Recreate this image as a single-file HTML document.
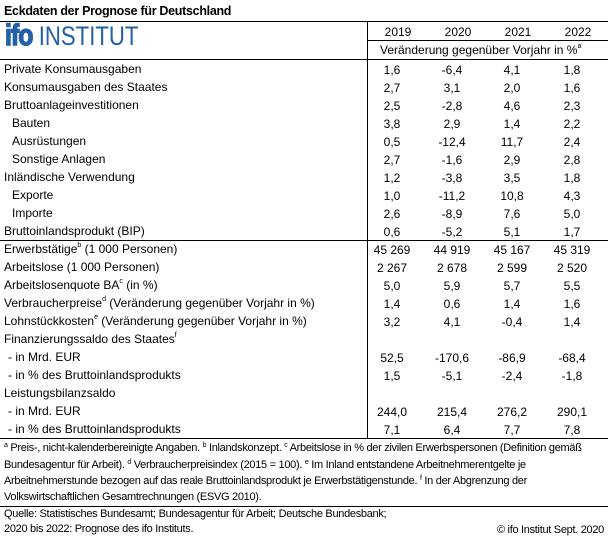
<!DOCTYPE html>
<html><head><meta charset="utf-8"><style>
body{margin:0;width:608px;height:539px;background:#fff;position:relative;overflow:hidden;font-family:"Liberation Sans",sans-serif;color:#000}
.t{position:absolute;font-size:12px;white-space:nowrap;line-height:14px}
.v{position:absolute;font-size:12px;white-space:nowrap;line-height:14px;width:60px;text-align:center}
.h{position:absolute;background:#000;height:1px}
sup{font-size:7px;vertical-align:top;line-height:7px}
.f{position:absolute;font-size:11px;white-space:nowrap;line-height:12px;left:4px;letter-spacing:-0.3px}
</style></head><body>
<div class="t" style="left:4px;top:4px;font-weight:bold;font-size:12.5px;letter-spacing:-0.3px">Eckdaten der Prognose für Deutschland</div>
<div class="h" style="left:0;top:21px;width:608px"></div>
<div class="h" style="left:368px;top:40px;width:240px"></div>
<div class="h" style="left:0;top:59px;width:608px"></div>
<div class="h" style="left:0;top:240px;width:608px"></div>
<div class="h" style="left:0;top:438px;width:608px"></div>
<div class="h" style="left:0;top:506px;width:608px"></div>
<div style="position:absolute;left:367px;top:21px;width:1px;height:418px;background:#000"></div>
<div style="position:absolute;left:5px;top:22px;font-size:27px;line-height:28px;color:#2360a8;white-space:nowrap;transform:scaleX(0.82);transform-origin:left"><b style="letter-spacing:-1px;font-size:30px;-webkit-text-stroke:1.5px #2360a8">ifo</b> <span style="font-weight:normal">INSTITUT</span></div>
<div class="v" style="left:368px;top:25px">2019</div>
<div class="v" style="left:428px;top:25px">2020</div>
<div class="v" style="left:488px;top:25px">2021</div>
<div class="v" style="left:548px;top:25px">2022</div>
<div class="t" style="left:380px;top:43px">Veränderung gegenüber Vorjahr in %<sup>a</sup></div>
<div id="rows"></div>
<script>
var r=[
["Private Konsumausgaben",62,0,"1,6","-6,4","4,1","1,8"],
["Konsumausgaben des Staates",80,0,"2,7","3,1","2,0","1,6"],
["Bruttoanlageinvestitionen",98,0,"2,5","-2,8","4,6","2,3"],
["Bauten",116,8,"3,8","2,9","1,4","2,2"],
["Ausrüstungen",134,8,"0,5","-12,4","11,7","2,4"],
["Sonstige Anlagen",152,8,"2,7","-1,6","2,9","2,8"],
["Inländische Verwendung",170,0,"1,2","-3,8","3,5","1,8"],
["Exporte",188,8,"1,0","-11,2","10,8","4,3"],
["Importe",206,8,"2,6","-8,9","7,6","5,0"],
["Bruttoinlandsprodukt (BIP)",224,0,"0,6","-5,2","5,1","1,7"],
["Erwerbstätige<sup>b</sup> (1 000 Personen)",242,0,"45 269","44 919","45 167","45 319"],
["Arbeitslose (1 000 Personen)",260,0,"2 267","2 678","2 599","2 520"],
["Arbeitslosenquote BA<sup>c</sup> (in %)",278,0,"5,0","5,9","5,7","5,5"],
["Verbraucherpreise<sup>d</sup> (Veränderung gegenüber Vorjahr in %)",296,0,"1,4","0,6","1,4","1,6"],
["Lohnstückkosten<sup>e</sup> (Veränderung gegenüber Vorjahr in %)",314,0,"3,2","4,1","-0,4","1,4"],
["Finanzierungssaldo des Staates<sup>f</sup>",332,0],
["- in Mrd. EUR",350,4,"52,5","-170,6","-86,9","-68,4"],
["- in % des Bruttoinlandsprodukts",368,4,"1,5","-5,1","-2,4","-1,8"],
["Leistungsbilanzsaldo",386,0],
["- in Mrd. EUR",404,4,"244,0","215,4","276,2","290,1"],
["- in % des Bruttoinlandsprodukts",422,4,"7,1","6,4","7,7","7,8"]];
var h="";r.forEach(function(x){h+='<div class="t" style="left:'+(4+x[2])+'px;top:'+x[1]+'px">'+x[0]+'</div>';
for(var i=0;i<4;i++)if(x[3+i])h+='<div class="v" style="left:'+(362+60*i)+'px;top:'+(x[1]+1)+'px">'+x[3+i]+'</div>';});
document.getElementById("rows").innerHTML=h;
</script>
<div class="f" style="top:442px"><sup>a</sup> Preis-, nicht-kalenderbereinigte Angaben. <sup>b</sup> Inlandskonzept. <sup>c</sup> Arbeitslose in % der zivilen Erwerbspersonen (Definition gemäß</div>
<div class="f" style="top:459px">Bundesagentur für Arbeit). <sup>d</sup> Verbraucherpreisindex (2015 = 100). <sup>e</sup> Im Inland entstandene Arbeitnehmerentgelte je</div>
<div class="f" style="top:475px">Arbeitnehmerstunde bezogen auf das reale Bruttoinlandsprodukt je Erwerbstätigenstunde. <sup>f</sup> In der Abgrenzung der</div>
<div class="f" style="top:491px">Volkswirtschaftlichen Gesamtrechnungen (ESVG 2010).</div>
<div class="f" style="top:508px">Quelle: Statistisches Bundesamt; Bundesagentur für Arbeit; Deutsche Bundesbank;</div>
<div class="f" style="top:523px">2020 bis 2022: Prognose des ifo Instituts.</div>
<div class="f" style="top:524px;left:auto;right:4px">© ifo Institut Sept. 2020</div>
</body></html>
